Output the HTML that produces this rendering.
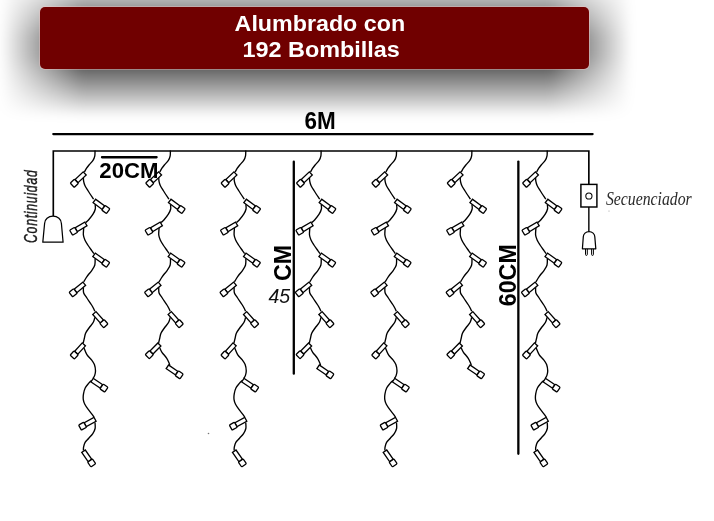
<!DOCTYPE html>
<html><head><meta charset="utf-8"><style>
html,body{margin:0;padding:0;background:#fff;}
body{width:714px;height:521px;position:relative;overflow:hidden;font-family:"Liberation Sans",sans-serif;}
.banner{position:absolute;left:40px;top:7px;width:549px;height:61.5px;background:#700000;border-radius:5px;box-shadow:0 0 0 1px rgba(255,200,200,0.35);
}
.sh{position:absolute;left:0;top:-20px;width:714px;height:170px;filter:blur(5.0px);}
.sh div{position:absolute;left:0;width:714px;height:1px;}
svg{position:absolute;left:0;top:0;filter:blur(0.3px);}
</style></head><body>
<div class="sh"><div style="top:0px;background:linear-gradient(90deg,rgba(0,0,0,0) 0.5px,rgba(0,0,0,0.062) 82.5px,rgba(0,0,0,0.062) 549.5px,rgba(0,0,0,0) 631.5px)"></div><div style="top:1px;background:linear-gradient(90deg,rgba(0,0,0,0) 0.5px,rgba(0,0,0,0.075) 82.5px,rgba(0,0,0,0.075) 549.5px,rgba(0,0,0,0) 631.5px)"></div><div style="top:2px;background:linear-gradient(90deg,rgba(0,0,0,0) 0.5px,rgba(0,0,0,0.087) 82.5px,rgba(0,0,0,0.087) 549.5px,rgba(0,0,0,0) 631.5px)"></div><div style="top:3px;background:linear-gradient(90deg,rgba(0,0,0,0) 0.5px,rgba(0,0,0,0.100) 82.5px,rgba(0,0,0,0.100) 549.5px,rgba(0,0,0,0) 631.5px)"></div><div style="top:4px;background:linear-gradient(90deg,rgba(0,0,0,0) 0.5px,rgba(0,0,0,0.113) 82.5px,rgba(0,0,0,0.113) 549.5px,rgba(0,0,0,0) 631.5px)"></div><div style="top:5px;background:linear-gradient(90deg,rgba(0,0,0,0) 0.5px,rgba(0,0,0,0.125) 82.5px,rgba(0,0,0,0.125) 549.5px,rgba(0,0,0,0) 631.5px)"></div><div style="top:6px;background:linear-gradient(90deg,rgba(0,0,0,0) 0.5px,rgba(0,0,0,0.138) 82.5px,rgba(0,0,0,0.138) 549.5px,rgba(0,0,0,0) 631.5px)"></div><div style="top:7px;background:linear-gradient(90deg,rgba(0,0,0,0) 0.5px,rgba(0,0,0,0.150) 82.5px,rgba(0,0,0,0.150) 549.5px,rgba(0,0,0,0) 631.5px)"></div><div style="top:8px;background:linear-gradient(90deg,rgba(0,0,0,0) 0.5px,rgba(0,0,0,0.163) 82.5px,rgba(0,0,0,0.163) 549.5px,rgba(0,0,0,0) 631.5px)"></div><div style="top:9px;background:linear-gradient(90deg,rgba(0,0,0,0) 0.5px,rgba(0,0,0,0.175) 82.5px,rgba(0,0,0,0.175) 549.5px,rgba(0,0,0,0) 631.5px)"></div><div style="top:10px;background:linear-gradient(90deg,rgba(0,0,0,0) 0.5px,rgba(0,0,0,0.188) 82.5px,rgba(0,0,0,0.188) 549.5px,rgba(0,0,0,0) 631.5px)"></div><div style="top:11px;background:linear-gradient(90deg,rgba(0,0,0,0) 0.5px,rgba(0,0,0,0.200) 82.5px,rgba(0,0,0,0.200) 549.5px,rgba(0,0,0,0) 631.5px)"></div><div style="top:12px;background:linear-gradient(90deg,rgba(0,0,0,0) 0.5px,rgba(0,0,0,0.212) 82.5px,rgba(0,0,0,0.212) 549.5px,rgba(0,0,0,0) 631.5px)"></div><div style="top:13px;background:linear-gradient(90deg,rgba(0,0,0,0) 0.5px,rgba(0,0,0,0.225) 82.5px,rgba(0,0,0,0.225) 549.5px,rgba(0,0,0,0) 631.5px)"></div><div style="top:14px;background:linear-gradient(90deg,rgba(0,0,0,0) 0.5px,rgba(0,0,0,0.237) 82.5px,rgba(0,0,0,0.237) 549.5px,rgba(0,0,0,0) 631.5px)"></div><div style="top:15px;background:linear-gradient(90deg,rgba(0,0,0,0) 0.5px,rgba(0,0,0,0.250) 82.5px,rgba(0,0,0,0.250) 549.5px,rgba(0,0,0,0) 631.5px)"></div><div style="top:16px;background:linear-gradient(90deg,rgba(0,0,0,0) 0.5px,rgba(0,0,0,0.263) 82.5px,rgba(0,0,0,0.263) 549.5px,rgba(0,0,0,0) 631.5px)"></div><div style="top:17px;background:linear-gradient(90deg,rgba(0,0,0,0) 0.5px,rgba(0,0,0,0.275) 82.5px,rgba(0,0,0,0.275) 549.5px,rgba(0,0,0,0) 631.5px)"></div><div style="top:18px;background:linear-gradient(90deg,rgba(0,0,0,0) 0.5px,rgba(0,0,0,0.287) 82.5px,rgba(0,0,0,0.287) 549.5px,rgba(0,0,0,0) 631.5px)"></div><div style="top:19px;background:linear-gradient(90deg,rgba(0,0,0,0) 0.5px,rgba(0,0,0,0.300) 82.5px,rgba(0,0,0,0.300) 549.5px,rgba(0,0,0,0) 631.5px)"></div><div style="top:20px;background:linear-gradient(90deg,rgba(0,0,0,0) 0.5px,rgba(0,0,0,0.312) 82.5px,rgba(0,0,0,0.312) 549.5px,rgba(0,0,0,0) 631.5px)"></div><div style="top:21px;background:linear-gradient(90deg,rgba(0,0,0,0) 0.5px,rgba(0,0,0,0.325) 82.5px,rgba(0,0,0,0.325) 549.5px,rgba(0,0,0,0) 631.5px)"></div><div style="top:22px;background:linear-gradient(90deg,rgba(0,0,0,0) 0.5px,rgba(0,0,0,0.338) 82.5px,rgba(0,0,0,0.338) 549.5px,rgba(0,0,0,0) 631.5px)"></div><div style="top:23px;background:linear-gradient(90deg,rgba(0,0,0,0) 0.5px,rgba(0,0,0,0.350) 82.5px,rgba(0,0,0,0.350) 549.5px,rgba(0,0,0,0) 631.5px)"></div><div style="top:24px;background:linear-gradient(90deg,rgba(0,0,0,0) 0.5px,rgba(0,0,0,0.362) 82.5px,rgba(0,0,0,0.362) 549.5px,rgba(0,0,0,0) 631.5px)"></div><div style="top:25px;background:linear-gradient(90deg,rgba(0,0,0,0) 0.5px,rgba(0,0,0,0.375) 82.5px,rgba(0,0,0,0.375) 549.5px,rgba(0,0,0,0) 631.5px)"></div><div style="top:26px;background:linear-gradient(90deg,rgba(0,0,0,0) 0.5px,rgba(0,0,0,0.388) 82.5px,rgba(0,0,0,0.388) 549.5px,rgba(0,0,0,0) 631.5px)"></div><div style="top:27px;background:linear-gradient(90deg,rgba(0,0,0,0) 0.5px,rgba(0,0,0,0.400) 82.5px,rgba(0,0,0,0.400) 549.5px,rgba(0,0,0,0) 631.5px)"></div><div style="top:28px;background:linear-gradient(90deg,rgba(0,0,0,0) 0.5px,rgba(0,0,0,0.412) 82.5px,rgba(0,0,0,0.412) 549.5px,rgba(0,0,0,0) 631.5px)"></div><div style="top:29px;background:linear-gradient(90deg,rgba(0,0,0,0) 0.5px,rgba(0,0,0,0.425) 82.5px,rgba(0,0,0,0.425) 549.5px,rgba(0,0,0,0) 631.5px)"></div><div style="top:30px;background:linear-gradient(90deg,rgba(0,0,0,0) 0.5px,rgba(0,0,0,0.438) 82.5px,rgba(0,0,0,0.438) 549.5px,rgba(0,0,0,0) 631.5px)"></div><div style="top:31px;background:linear-gradient(90deg,rgba(0,0,0,0) 0.5px,rgba(0,0,0,0.450) 82.5px,rgba(0,0,0,0.450) 549.5px,rgba(0,0,0,0) 631.5px)"></div><div style="top:32px;background:linear-gradient(90deg,rgba(0,0,0,0) 0.5px,rgba(0,0,0,0.463) 82.5px,rgba(0,0,0,0.463) 549.5px,rgba(0,0,0,0) 631.5px)"></div><div style="top:33px;background:linear-gradient(90deg,rgba(0,0,0,0) 0.5px,rgba(0,0,0,0.475) 82.5px,rgba(0,0,0,0.475) 549.5px,rgba(0,0,0,0) 631.5px)"></div><div style="top:34px;background:linear-gradient(90deg,rgba(0,0,0,0) 0.5px,rgba(0,0,0,0.487) 82.5px,rgba(0,0,0,0.487) 549.5px,rgba(0,0,0,0) 631.5px)"></div><div style="top:35px;background:linear-gradient(90deg,rgba(0,0,0,0) 0.5px,rgba(0,0,0,0.500) 82.5px,rgba(0,0,0,0.500) 549.5px,rgba(0,0,0,0) 631.5px)"></div><div style="top:36px;background:linear-gradient(90deg,rgba(0,0,0,0) 0.5px,rgba(0,0,0,0.512) 82.5px,rgba(0,0,0,0.512) 549.5px,rgba(0,0,0,0) 631.5px)"></div><div style="top:37px;background:linear-gradient(90deg,rgba(0,0,0,0) 0.5px,rgba(0,0,0,0.525) 82.5px,rgba(0,0,0,0.525) 549.5px,rgba(0,0,0,0) 631.5px)"></div><div style="top:38px;background:linear-gradient(90deg,rgba(0,0,0,0) 0.5px,rgba(0,0,0,0.537) 82.5px,rgba(0,0,0,0.537) 549.5px,rgba(0,0,0,0) 631.5px)"></div><div style="top:39px;background:linear-gradient(90deg,rgba(0,0,0,0) 0.5px,rgba(0,0,0,0.550) 82.5px,rgba(0,0,0,0.550) 549.5px,rgba(0,0,0,0) 631.5px)"></div><div style="top:40px;background:linear-gradient(90deg,rgba(0,0,0,0) 0.5px,rgba(0,0,0,0.562) 82.5px,rgba(0,0,0,0.562) 549.5px,rgba(0,0,0,0) 631.5px)"></div><div style="top:41px;background:linear-gradient(90deg,rgba(0,0,0,0) 0.5px,rgba(0,0,0,0.575) 82.5px,rgba(0,0,0,0.575) 549.5px,rgba(0,0,0,0) 631.5px)"></div><div style="top:42px;background:linear-gradient(90deg,rgba(0,0,0,0) 0.5px,rgba(0,0,0,0.588) 82.5px,rgba(0,0,0,0.588) 549.5px,rgba(0,0,0,0) 631.5px)"></div><div style="top:43px;background:linear-gradient(90deg,rgba(0,0,0,0) 0.5px,rgba(0,0,0,0.600) 82.5px,rgba(0,0,0,0.600) 549.5px,rgba(0,0,0,0) 631.5px)"></div><div style="top:44px;background:linear-gradient(90deg,rgba(0,0,0,0) 0.5px,rgba(0,0,0,0.613) 82.5px,rgba(0,0,0,0.613) 549.5px,rgba(0,0,0,0) 631.5px)"></div><div style="top:45px;background:linear-gradient(90deg,rgba(0,0,0,0) 0.5px,rgba(0,0,0,0.625) 82.5px,rgba(0,0,0,0.625) 549.5px,rgba(0,0,0,0) 631.5px)"></div><div style="top:46px;background:linear-gradient(90deg,rgba(0,0,0,0) 0.5px,rgba(0,0,0,0.637) 82.5px,rgba(0,0,0,0.637) 549.5px,rgba(0,0,0,0) 631.5px)"></div><div style="top:47px;background:linear-gradient(90deg,rgba(0,0,0,0) 0.5px,rgba(0,0,0,0.650) 82.5px,rgba(0,0,0,0.650) 549.5px,rgba(0,0,0,0) 631.5px)"></div><div style="top:48px;background:linear-gradient(90deg,rgba(0,0,0,0) 0.5px,rgba(0,0,0,0.662) 82.5px,rgba(0,0,0,0.662) 549.5px,rgba(0,0,0,0) 631.5px)"></div><div style="top:49px;background:linear-gradient(90deg,rgba(0,0,0,0) 0.5px,rgba(0,0,0,0.675) 82.5px,rgba(0,0,0,0.675) 549.5px,rgba(0,0,0,0) 631.5px)"></div><div style="top:50px;background:linear-gradient(90deg,rgba(0,0,0,0) 0.5px,rgba(0,0,0,0.688) 82.5px,rgba(0,0,0,0.688) 549.5px,rgba(0,0,0,0) 631.5px)"></div><div style="top:51px;background:linear-gradient(90deg,rgba(0,0,0,0) 0.5px,rgba(0,0,0,0.700) 82.5px,rgba(0,0,0,0.700) 549.5px,rgba(0,0,0,0) 631.5px)"></div><div style="top:52px;background:linear-gradient(90deg,rgba(0,0,0,0) 0.5px,rgba(0,0,0,0.713) 82.5px,rgba(0,0,0,0.713) 549.5px,rgba(0,0,0,0) 631.5px)"></div><div style="top:53px;background:linear-gradient(90deg,rgba(0,0,0,0) 0.5px,rgba(0,0,0,0.725) 82.5px,rgba(0,0,0,0.725) 549.5px,rgba(0,0,0,0) 631.5px)"></div><div style="top:54px;background:linear-gradient(90deg,rgba(0,0,0,0) 0.5px,rgba(0,0,0,0.738) 82.5px,rgba(0,0,0,0.738) 549.5px,rgba(0,0,0,0) 631.5px)"></div><div style="top:55px;background:linear-gradient(90deg,rgba(0,0,0,0) 0.5px,rgba(0,0,0,0.750) 82.5px,rgba(0,0,0,0.750) 549.5px,rgba(0,0,0,0) 631.5px)"></div><div style="top:56px;background:linear-gradient(90deg,rgba(0,0,0,0) 0.5px,rgba(0,0,0,0.762) 82.5px,rgba(0,0,0,0.762) 549.5px,rgba(0,0,0,0) 631.5px)"></div><div style="top:57px;background:linear-gradient(90deg,rgba(0,0,0,0) 0.5px,rgba(0,0,0,0.769) 82.5px,rgba(0,0,0,0.769) 549.5px,rgba(0,0,0,0) 631.5px)"></div><div style="top:58px;background:linear-gradient(90deg,rgba(0,0,0,0) 0.5px,rgba(0,0,0,0.769) 82.5px,rgba(0,0,0,0.769) 549.5px,rgba(0,0,0,0) 631.5px)"></div><div style="top:59px;background:linear-gradient(90deg,rgba(0,0,0,0) 0.5px,rgba(0,0,0,0.769) 82.5px,rgba(0,0,0,0.769) 549.5px,rgba(0,0,0,0) 631.5px)"></div><div style="top:60px;background:linear-gradient(90deg,rgba(0,0,0,0) 0.5px,rgba(0,0,0,0.769) 82.5px,rgba(0,0,0,0.769) 549.5px,rgba(0,0,0,0) 631.5px)"></div><div style="top:61px;background:linear-gradient(90deg,rgba(0,0,0,0) 0.5px,rgba(0,0,0,0.769) 82.5px,rgba(0,0,0,0.769) 549.5px,rgba(0,0,0,0) 631.5px)"></div><div style="top:62px;background:linear-gradient(90deg,rgba(0,0,0,0) 0.5px,rgba(0,0,0,0.769) 82.5px,rgba(0,0,0,0.769) 549.5px,rgba(0,0,0,0) 631.5px)"></div><div style="top:63px;background:linear-gradient(90deg,rgba(0,0,0,0) 0.5px,rgba(0,0,0,0.769) 82.5px,rgba(0,0,0,0.769) 549.5px,rgba(0,0,0,0) 631.5px)"></div><div style="top:64px;background:linear-gradient(90deg,rgba(0,0,0,0) 0.5px,rgba(0,0,0,0.769) 82.5px,rgba(0,0,0,0.769) 549.5px,rgba(0,0,0,0) 631.5px)"></div><div style="top:65px;background:linear-gradient(90deg,rgba(0,0,0,0) 0.5px,rgba(0,0,0,0.769) 82.5px,rgba(0,0,0,0.769) 549.5px,rgba(0,0,0,0) 631.5px)"></div><div style="top:66px;background:linear-gradient(90deg,rgba(0,0,0,0) 0.5px,rgba(0,0,0,0.769) 82.5px,rgba(0,0,0,0.769) 549.5px,rgba(0,0,0,0) 631.5px)"></div><div style="top:67px;background:linear-gradient(90deg,rgba(0,0,0,0) 0.5px,rgba(0,0,0,0.769) 82.5px,rgba(0,0,0,0.769) 549.5px,rgba(0,0,0,0) 631.5px)"></div><div style="top:68px;background:linear-gradient(90deg,rgba(0,0,0,0) 0.5px,rgba(0,0,0,0.769) 82.5px,rgba(0,0,0,0.769) 549.5px,rgba(0,0,0,0) 631.5px)"></div><div style="top:69px;background:linear-gradient(90deg,rgba(0,0,0,0) 0.5px,rgba(0,0,0,0.769) 82.5px,rgba(0,0,0,0.769) 549.5px,rgba(0,0,0,0) 631.5px)"></div><div style="top:70px;background:linear-gradient(90deg,rgba(0,0,0,0) 0.5px,rgba(0,0,0,0.769) 82.5px,rgba(0,0,0,0.769) 549.5px,rgba(0,0,0,0) 631.5px)"></div><div style="top:71px;background:linear-gradient(90deg,rgba(0,0,0,0) 0.5px,rgba(0,0,0,0.769) 82.5px,rgba(0,0,0,0.769) 549.5px,rgba(0,0,0,0) 631.5px)"></div><div style="top:72px;background:linear-gradient(90deg,rgba(0,0,0,0) 0.5px,rgba(0,0,0,0.769) 82.5px,rgba(0,0,0,0.769) 549.5px,rgba(0,0,0,0) 631.5px)"></div><div style="top:73px;background:linear-gradient(90deg,rgba(0,0,0,0) 0.5px,rgba(0,0,0,0.769) 82.5px,rgba(0,0,0,0.769) 549.5px,rgba(0,0,0,0) 631.5px)"></div><div style="top:74px;background:linear-gradient(90deg,rgba(0,0,0,0) 0.5px,rgba(0,0,0,0.769) 82.5px,rgba(0,0,0,0.769) 549.5px,rgba(0,0,0,0) 631.5px)"></div><div style="top:75px;background:linear-gradient(90deg,rgba(0,0,0,0) 0.5px,rgba(0,0,0,0.769) 82.5px,rgba(0,0,0,0.769) 549.5px,rgba(0,0,0,0) 631.5px)"></div><div style="top:76px;background:linear-gradient(90deg,rgba(0,0,0,0) 0.5px,rgba(0,0,0,0.756) 82.5px,rgba(0,0,0,0.756) 549.5px,rgba(0,0,0,0) 631.5px)"></div><div style="top:77px;background:linear-gradient(90deg,rgba(0,0,0,0) 0.5px,rgba(0,0,0,0.744) 82.5px,rgba(0,0,0,0.744) 549.5px,rgba(0,0,0,0) 631.5px)"></div><div style="top:78px;background:linear-gradient(90deg,rgba(0,0,0,0) 0.5px,rgba(0,0,0,0.731) 82.5px,rgba(0,0,0,0.731) 549.5px,rgba(0,0,0,0) 631.5px)"></div><div style="top:79px;background:linear-gradient(90deg,rgba(0,0,0,0) 0.5px,rgba(0,0,0,0.719) 82.5px,rgba(0,0,0,0.719) 549.5px,rgba(0,0,0,0) 631.5px)"></div><div style="top:80px;background:linear-gradient(90deg,rgba(0,0,0,0) 0.5px,rgba(0,0,0,0.706) 82.5px,rgba(0,0,0,0.706) 549.5px,rgba(0,0,0,0) 631.5px)"></div><div style="top:81px;background:linear-gradient(90deg,rgba(0,0,0,0) 0.5px,rgba(0,0,0,0.694) 82.5px,rgba(0,0,0,0.694) 549.5px,rgba(0,0,0,0) 631.5px)"></div><div style="top:82px;background:linear-gradient(90deg,rgba(0,0,0,0) 0.5px,rgba(0,0,0,0.681) 82.5px,rgba(0,0,0,0.681) 549.5px,rgba(0,0,0,0) 631.5px)"></div><div style="top:83px;background:linear-gradient(90deg,rgba(0,0,0,0) 0.5px,rgba(0,0,0,0.669) 82.5px,rgba(0,0,0,0.669) 549.5px,rgba(0,0,0,0) 631.5px)"></div><div style="top:84px;background:linear-gradient(90deg,rgba(0,0,0,0) 0.5px,rgba(0,0,0,0.656) 82.5px,rgba(0,0,0,0.656) 549.5px,rgba(0,0,0,0) 631.5px)"></div><div style="top:85px;background:linear-gradient(90deg,rgba(0,0,0,0) 0.5px,rgba(0,0,0,0.644) 82.5px,rgba(0,0,0,0.644) 549.5px,rgba(0,0,0,0) 631.5px)"></div><div style="top:86px;background:linear-gradient(90deg,rgba(0,0,0,0) 0.5px,rgba(0,0,0,0.631) 82.5px,rgba(0,0,0,0.631) 549.5px,rgba(0,0,0,0) 631.5px)"></div><div style="top:87px;background:linear-gradient(90deg,rgba(0,0,0,0) 0.5px,rgba(0,0,0,0.619) 82.5px,rgba(0,0,0,0.619) 549.5px,rgba(0,0,0,0) 631.5px)"></div><div style="top:88px;background:linear-gradient(90deg,rgba(0,0,0,0) 0.5px,rgba(0,0,0,0.606) 82.5px,rgba(0,0,0,0.606) 549.5px,rgba(0,0,0,0) 631.5px)"></div><div style="top:89px;background:linear-gradient(90deg,rgba(0,0,0,0) 0.5px,rgba(0,0,0,0.594) 82.5px,rgba(0,0,0,0.594) 549.5px,rgba(0,0,0,0) 631.5px)"></div><div style="top:90px;background:linear-gradient(90deg,rgba(0,0,0,0) 0.5px,rgba(0,0,0,0.581) 82.5px,rgba(0,0,0,0.581) 549.5px,rgba(0,0,0,0) 631.5px)"></div><div style="top:91px;background:linear-gradient(90deg,rgba(0,0,0,0) 0.5px,rgba(0,0,0,0.569) 82.5px,rgba(0,0,0,0.569) 549.5px,rgba(0,0,0,0) 631.5px)"></div><div style="top:92px;background:linear-gradient(90deg,rgba(0,0,0,0) 0.5px,rgba(0,0,0,0.556) 82.5px,rgba(0,0,0,0.556) 549.5px,rgba(0,0,0,0) 631.5px)"></div><div style="top:93px;background:linear-gradient(90deg,rgba(0,0,0,0) 0.5px,rgba(0,0,0,0.544) 82.5px,rgba(0,0,0,0.544) 549.5px,rgba(0,0,0,0) 631.5px)"></div><div style="top:94px;background:linear-gradient(90deg,rgba(0,0,0,0) 0.5px,rgba(0,0,0,0.531) 82.5px,rgba(0,0,0,0.531) 549.5px,rgba(0,0,0,0) 631.5px)"></div><div style="top:95px;background:linear-gradient(90deg,rgba(0,0,0,0) 0.5px,rgba(0,0,0,0.519) 82.5px,rgba(0,0,0,0.519) 549.5px,rgba(0,0,0,0) 631.5px)"></div><div style="top:96px;background:linear-gradient(90deg,rgba(0,0,0,0) 0.5px,rgba(0,0,0,0.506) 82.5px,rgba(0,0,0,0.506) 549.5px,rgba(0,0,0,0) 631.5px)"></div><div style="top:97px;background:linear-gradient(90deg,rgba(0,0,0,0) 0.5px,rgba(0,0,0,0.494) 82.5px,rgba(0,0,0,0.494) 549.5px,rgba(0,0,0,0) 631.5px)"></div><div style="top:98px;background:linear-gradient(90deg,rgba(0,0,0,0) 0.5px,rgba(0,0,0,0.481) 82.5px,rgba(0,0,0,0.481) 549.5px,rgba(0,0,0,0) 631.5px)"></div><div style="top:99px;background:linear-gradient(90deg,rgba(0,0,0,0) 0.5px,rgba(0,0,0,0.469) 82.5px,rgba(0,0,0,0.469) 549.5px,rgba(0,0,0,0) 631.5px)"></div><div style="top:100px;background:linear-gradient(90deg,rgba(0,0,0,0) 0.5px,rgba(0,0,0,0.456) 82.5px,rgba(0,0,0,0.456) 549.5px,rgba(0,0,0,0) 631.5px)"></div><div style="top:101px;background:linear-gradient(90deg,rgba(0,0,0,0) 0.5px,rgba(0,0,0,0.444) 82.5px,rgba(0,0,0,0.444) 549.5px,rgba(0,0,0,0) 631.5px)"></div><div style="top:102px;background:linear-gradient(90deg,rgba(0,0,0,0) 0.5px,rgba(0,0,0,0.431) 82.5px,rgba(0,0,0,0.431) 549.5px,rgba(0,0,0,0) 631.5px)"></div><div style="top:103px;background:linear-gradient(90deg,rgba(0,0,0,0) 0.5px,rgba(0,0,0,0.419) 82.5px,rgba(0,0,0,0.419) 549.5px,rgba(0,0,0,0) 631.5px)"></div><div style="top:104px;background:linear-gradient(90deg,rgba(0,0,0,0) 0.5px,rgba(0,0,0,0.406) 82.5px,rgba(0,0,0,0.406) 549.5px,rgba(0,0,0,0) 631.5px)"></div><div style="top:105px;background:linear-gradient(90deg,rgba(0,0,0,0) 0.5px,rgba(0,0,0,0.394) 82.5px,rgba(0,0,0,0.394) 549.5px,rgba(0,0,0,0) 631.5px)"></div><div style="top:106px;background:linear-gradient(90deg,rgba(0,0,0,0) 0.5px,rgba(0,0,0,0.381) 82.5px,rgba(0,0,0,0.381) 549.5px,rgba(0,0,0,0) 631.5px)"></div><div style="top:107px;background:linear-gradient(90deg,rgba(0,0,0,0) 0.5px,rgba(0,0,0,0.369) 82.5px,rgba(0,0,0,0.369) 549.5px,rgba(0,0,0,0) 631.5px)"></div><div style="top:108px;background:linear-gradient(90deg,rgba(0,0,0,0) 0.5px,rgba(0,0,0,0.356) 82.5px,rgba(0,0,0,0.356) 549.5px,rgba(0,0,0,0) 631.5px)"></div><div style="top:109px;background:linear-gradient(90deg,rgba(0,0,0,0) 0.5px,rgba(0,0,0,0.344) 82.5px,rgba(0,0,0,0.344) 549.5px,rgba(0,0,0,0) 631.5px)"></div><div style="top:110px;background:linear-gradient(90deg,rgba(0,0,0,0) 0.5px,rgba(0,0,0,0.331) 82.5px,rgba(0,0,0,0.331) 549.5px,rgba(0,0,0,0) 631.5px)"></div><div style="top:111px;background:linear-gradient(90deg,rgba(0,0,0,0) 0.5px,rgba(0,0,0,0.319) 82.5px,rgba(0,0,0,0.319) 549.5px,rgba(0,0,0,0) 631.5px)"></div><div style="top:112px;background:linear-gradient(90deg,rgba(0,0,0,0) 0.5px,rgba(0,0,0,0.306) 82.5px,rgba(0,0,0,0.306) 549.5px,rgba(0,0,0,0) 631.5px)"></div><div style="top:113px;background:linear-gradient(90deg,rgba(0,0,0,0) 0.5px,rgba(0,0,0,0.294) 82.5px,rgba(0,0,0,0.294) 549.5px,rgba(0,0,0,0) 631.5px)"></div><div style="top:114px;background:linear-gradient(90deg,rgba(0,0,0,0) 0.5px,rgba(0,0,0,0.281) 82.5px,rgba(0,0,0,0.281) 549.5px,rgba(0,0,0,0) 631.5px)"></div><div style="top:115px;background:linear-gradient(90deg,rgba(0,0,0,0) 0.5px,rgba(0,0,0,0.269) 82.5px,rgba(0,0,0,0.269) 549.5px,rgba(0,0,0,0) 631.5px)"></div><div style="top:116px;background:linear-gradient(90deg,rgba(0,0,0,0) 0.5px,rgba(0,0,0,0.256) 82.5px,rgba(0,0,0,0.256) 549.5px,rgba(0,0,0,0) 631.5px)"></div><div style="top:117px;background:linear-gradient(90deg,rgba(0,0,0,0) 0.5px,rgba(0,0,0,0.244) 82.5px,rgba(0,0,0,0.244) 549.5px,rgba(0,0,0,0) 631.5px)"></div><div style="top:118px;background:linear-gradient(90deg,rgba(0,0,0,0) 0.5px,rgba(0,0,0,0.231) 82.5px,rgba(0,0,0,0.231) 549.5px,rgba(0,0,0,0) 631.5px)"></div><div style="top:119px;background:linear-gradient(90deg,rgba(0,0,0,0) 0.5px,rgba(0,0,0,0.219) 82.5px,rgba(0,0,0,0.219) 549.5px,rgba(0,0,0,0) 631.5px)"></div><div style="top:120px;background:linear-gradient(90deg,rgba(0,0,0,0) 0.5px,rgba(0,0,0,0.206) 82.5px,rgba(0,0,0,0.206) 549.5px,rgba(0,0,0,0) 631.5px)"></div><div style="top:121px;background:linear-gradient(90deg,rgba(0,0,0,0) 0.5px,rgba(0,0,0,0.194) 82.5px,rgba(0,0,0,0.194) 549.5px,rgba(0,0,0,0) 631.5px)"></div><div style="top:122px;background:linear-gradient(90deg,rgba(0,0,0,0) 0.5px,rgba(0,0,0,0.181) 82.5px,rgba(0,0,0,0.181) 549.5px,rgba(0,0,0,0) 631.5px)"></div><div style="top:123px;background:linear-gradient(90deg,rgba(0,0,0,0) 0.5px,rgba(0,0,0,0.169) 82.5px,rgba(0,0,0,0.169) 549.5px,rgba(0,0,0,0) 631.5px)"></div><div style="top:124px;background:linear-gradient(90deg,rgba(0,0,0,0) 0.5px,rgba(0,0,0,0.156) 82.5px,rgba(0,0,0,0.156) 549.5px,rgba(0,0,0,0) 631.5px)"></div><div style="top:125px;background:linear-gradient(90deg,rgba(0,0,0,0) 0.5px,rgba(0,0,0,0.144) 82.5px,rgba(0,0,0,0.144) 549.5px,rgba(0,0,0,0) 631.5px)"></div><div style="top:126px;background:linear-gradient(90deg,rgba(0,0,0,0) 0.5px,rgba(0,0,0,0.131) 82.5px,rgba(0,0,0,0.131) 549.5px,rgba(0,0,0,0) 631.5px)"></div><div style="top:127px;background:linear-gradient(90deg,rgba(0,0,0,0) 0.5px,rgba(0,0,0,0.119) 82.5px,rgba(0,0,0,0.119) 549.5px,rgba(0,0,0,0) 631.5px)"></div><div style="top:128px;background:linear-gradient(90deg,rgba(0,0,0,0) 0.5px,rgba(0,0,0,0.106) 82.5px,rgba(0,0,0,0.106) 549.5px,rgba(0,0,0,0) 631.5px)"></div><div style="top:129px;background:linear-gradient(90deg,rgba(0,0,0,0) 0.5px,rgba(0,0,0,0.094) 82.5px,rgba(0,0,0,0.094) 549.5px,rgba(0,0,0,0) 631.5px)"></div><div style="top:130px;background:linear-gradient(90deg,rgba(0,0,0,0) 0.5px,rgba(0,0,0,0.081) 82.5px,rgba(0,0,0,0.081) 549.5px,rgba(0,0,0,0) 631.5px)"></div><div style="top:131px;background:linear-gradient(90deg,rgba(0,0,0,0) 0.5px,rgba(0,0,0,0.069) 82.5px,rgba(0,0,0,0.069) 549.5px,rgba(0,0,0,0) 631.5px)"></div><div style="top:132px;background:linear-gradient(90deg,rgba(0,0,0,0) 0.5px,rgba(0,0,0,0.056) 82.5px,rgba(0,0,0,0.056) 549.5px,rgba(0,0,0,0) 631.5px)"></div><div style="top:133px;background:linear-gradient(90deg,rgba(0,0,0,0) 0.5px,rgba(0,0,0,0.044) 82.5px,rgba(0,0,0,0.044) 549.5px,rgba(0,0,0,0) 631.5px)"></div><div style="top:134px;background:linear-gradient(90deg,rgba(0,0,0,0) 0.5px,rgba(0,0,0,0.031) 82.5px,rgba(0,0,0,0.031) 549.5px,rgba(0,0,0,0) 631.5px)"></div><div style="top:135px;background:linear-gradient(90deg,rgba(0,0,0,0) 0.5px,rgba(0,0,0,0.019) 82.5px,rgba(0,0,0,0.019) 549.5px,rgba(0,0,0,0) 631.5px)"></div><div style="top:136px;background:linear-gradient(90deg,rgba(0,0,0,0) 0.5px,rgba(0,0,0,0.006) 82.5px,rgba(0,0,0,0.006) 549.5px,rgba(0,0,0,0) 631.5px)"></div></div><div class="banner"></div>
<svg width="714" height="521" viewBox="0 0 714 521">
<text x="234.6" y="30.7" font-family="Liberation Sans" font-weight="bold" font-size="22.6" fill="#fff" textLength="170.5" lengthAdjust="spacingAndGlyphs">Alumbrado con</text>
<text x="242.4" y="57.1" font-family="Liberation Sans" font-weight="bold" font-size="22.6" fill="#fff" textLength="157.5" lengthAdjust="spacingAndGlyphs">192 Bombillas</text>
<line x1="53.3" y1="134.1" x2="592.6" y2="134.1" stroke="#000" stroke-width="2.3" stroke-linecap="round"/>
<path d="M53.3 216 V151 H588.85 V184" fill="none" stroke="#000" stroke-width="1.65"/>
<g fill="none" stroke="#000" stroke-width="1.35"><path d="M95.00 150.50C94.97 151.38 95.13 154.15 94.80 155.80C94.47 157.45 93.97 158.87 93.00 160.40C92.03 161.93 90.10 163.67 89.00 165.00C87.90 166.33 87.17 167.23 86.40 168.40C85.63 169.57 84.73 171.40 84.40 172.00M83.40 177.60C83.43 178.17 83.35 179.68 83.60 181.00C83.85 182.32 84.13 183.83 84.90 185.50C85.67 187.17 86.75 188.72 88.20 191.00C89.65 193.28 92.70 197.83 93.60 199.20M95.10 204.40C95.13 205.17 95.65 207.37 95.30 209.00C94.95 210.63 94.13 212.37 93.00 214.20C91.87 216.03 89.72 218.62 88.50 220.00C87.28 221.38 86.17 222.08 85.70 222.50M83.70 228.00C83.65 229.17 83.20 233.00 83.40 235.00C83.60 237.00 84.17 238.33 84.90 240.00C85.63 241.67 86.63 243.20 87.80 245.00C88.97 246.80 90.88 249.37 91.90 250.80C92.92 252.23 93.57 253.13 93.90 253.60M95.10 258.50C95.05 259.58 95.33 263.03 94.80 265.00C94.27 266.97 93.02 268.63 91.90 270.30C90.78 271.97 89.13 273.63 88.10 275.00C87.07 276.37 86.43 277.35 85.70 278.50C84.97 279.65 84.03 281.33 83.70 281.90M83.40 287.40C83.45 288.33 83.12 291.23 83.70 293.00C84.28 294.77 85.58 296.00 86.90 298.00C88.22 300.00 90.48 303.25 91.60 305.00C92.72 306.75 93.07 307.45 93.60 308.50C94.13 309.55 94.60 310.83 94.80 311.30M94.80 317.40C94.55 318.22 94.27 320.53 93.30 322.30C92.33 324.07 90.28 326.18 89.00 328.00C87.72 329.82 86.38 331.45 85.60 333.20C84.82 334.95 84.70 336.87 84.30 338.50C83.90 340.13 83.38 342.25 83.20 343.00M84.00 348.00C84.48 349.10 85.65 352.63 86.90 354.60C88.15 356.57 90.25 358.13 91.50 359.80C92.75 361.47 93.73 362.77 94.40 364.60C95.07 366.43 95.45 369.00 95.50 370.80C95.55 372.60 95.12 374.12 94.70 375.40C94.28 376.68 93.28 377.98 93.00 378.50M91.50 380.50C91.02 380.98 89.65 382.15 88.60 383.40C87.55 384.65 86.05 386.27 85.20 388.00C84.35 389.73 83.82 391.87 83.50 393.80C83.18 395.73 83.08 397.87 83.30 399.60C83.52 401.33 83.98 402.57 84.80 404.20C85.62 405.83 86.95 407.67 88.20 409.40C89.45 411.13 91.33 413.30 92.30 414.60C93.27 415.90 93.72 416.77 94.00 417.20M95.00 422.40C95.02 423.42 95.47 426.63 95.10 428.50C94.73 430.37 93.85 431.98 92.80 433.60C91.75 435.22 90.08 436.75 88.80 438.20C87.52 439.65 85.97 440.85 85.10 442.30C84.23 443.75 83.88 445.53 83.60 446.90C83.32 448.27 83.43 449.90 83.40 450.50"/><path d="M170.37 150.50C170.34 151.38 170.50 154.15 170.17 155.80C169.84 157.45 169.34 158.87 168.37 160.40C167.40 161.93 165.47 163.67 164.37 165.00C163.27 166.33 162.54 167.23 161.77 168.40C161.00 169.57 160.10 171.40 159.77 172.00M158.77 177.60C158.80 178.17 158.72 179.68 158.97 181.00C159.22 182.32 159.50 183.83 160.27 185.50C161.04 187.17 162.12 188.72 163.57 191.00C165.02 193.28 168.07 197.83 168.97 199.20M170.47 204.40C170.50 205.17 171.02 207.37 170.67 209.00C170.32 210.63 169.50 212.37 168.37 214.20C167.24 216.03 165.09 218.62 163.87 220.00C162.65 221.38 161.54 222.08 161.07 222.50M159.07 228.00C159.02 229.17 158.57 233.00 158.77 235.00C158.97 237.00 159.54 238.33 160.27 240.00C161.00 241.67 162.00 243.20 163.17 245.00C164.34 246.80 166.25 249.37 167.27 250.80C168.29 252.23 168.94 253.13 169.27 253.60M170.47 258.50C170.42 259.58 170.70 263.03 170.17 265.00C169.64 266.97 168.39 268.63 167.27 270.30C166.15 271.97 164.50 273.63 163.47 275.00C162.44 276.37 161.80 277.35 161.07 278.50C160.34 279.65 159.40 281.33 159.07 281.90M158.77 287.40C158.82 288.33 158.49 291.23 159.07 293.00C159.65 294.77 160.95 296.00 162.27 298.00C163.59 300.00 165.85 303.25 166.97 305.00C168.09 306.75 168.44 307.45 168.97 308.50C169.50 309.55 169.97 310.83 170.17 311.30M170.17 317.40C169.92 318.22 169.64 320.53 168.67 322.30C167.70 324.07 165.65 326.18 164.37 328.00C163.09 329.82 161.75 331.45 160.97 333.20C160.19 334.95 160.07 336.87 159.67 338.50C159.27 340.13 158.75 342.25 158.57 343.00M159.77 348.00C160.14 348.72 160.80 350.58 161.97 352.30C163.14 354.02 165.55 356.43 166.77 358.30C167.99 360.17 168.77 362.33 169.27 363.50C169.77 364.67 169.69 365.00 169.77 365.30"/><path d="M245.74 150.50C245.71 151.38 245.87 154.15 245.54 155.80C245.21 157.45 244.71 158.87 243.74 160.40C242.77 161.93 240.84 163.67 239.74 165.00C238.64 166.33 237.91 167.23 237.14 168.40C236.37 169.57 235.47 171.40 235.14 172.00M234.14 177.60C234.17 178.17 234.09 179.68 234.34 181.00C234.59 182.32 234.87 183.83 235.64 185.50C236.41 187.17 237.49 188.72 238.94 191.00C240.39 193.28 243.44 197.83 244.34 199.20M245.84 204.40C245.87 205.17 246.39 207.37 246.04 209.00C245.69 210.63 244.87 212.37 243.74 214.20C242.61 216.03 240.46 218.62 239.24 220.00C238.02 221.38 236.91 222.08 236.44 222.50M234.44 228.00C234.39 229.17 233.94 233.00 234.14 235.00C234.34 237.00 234.91 238.33 235.64 240.00C236.37 241.67 237.37 243.20 238.54 245.00C239.71 246.80 241.62 249.37 242.64 250.80C243.66 252.23 244.31 253.13 244.64 253.60M245.84 258.50C245.79 259.58 246.07 263.03 245.54 265.00C245.01 266.97 243.76 268.63 242.64 270.30C241.52 271.97 239.87 273.63 238.84 275.00C237.81 276.37 237.17 277.35 236.44 278.50C235.71 279.65 234.77 281.33 234.44 281.90M234.14 287.40C234.19 288.33 233.86 291.23 234.44 293.00C235.02 294.77 236.32 296.00 237.64 298.00C238.96 300.00 241.22 303.25 242.34 305.00C243.46 306.75 243.81 307.45 244.34 308.50C244.87 309.55 245.34 310.83 245.54 311.30M245.54 317.40C245.29 318.22 245.01 320.53 244.04 322.30C243.07 324.07 241.02 326.18 239.74 328.00C238.46 329.82 237.12 331.45 236.34 333.20C235.56 334.95 235.44 336.87 235.04 338.50C234.64 340.13 234.12 342.25 233.94 343.00M234.74 348.00C235.22 349.10 236.39 352.63 237.64 354.60C238.89 356.57 240.99 358.13 242.24 359.80C243.49 361.47 244.47 362.77 245.14 364.60C245.81 366.43 246.19 369.00 246.24 370.80C246.29 372.60 245.86 374.12 245.44 375.40C245.02 376.68 244.02 377.98 243.74 378.50M242.24 380.50C241.76 380.98 240.39 382.15 239.34 383.40C238.29 384.65 236.79 386.27 235.94 388.00C235.09 389.73 234.56 391.87 234.24 393.80C233.92 395.73 233.82 397.87 234.04 399.60C234.26 401.33 234.72 402.57 235.54 404.20C236.36 405.83 237.69 407.67 238.94 409.40C240.19 411.13 242.07 413.30 243.04 414.60C244.01 415.90 244.46 416.77 244.74 417.20M245.74 422.40C245.76 423.42 246.21 426.63 245.84 428.50C245.47 430.37 244.59 431.98 243.54 433.60C242.49 435.22 240.82 436.75 239.54 438.20C238.26 439.65 236.71 440.85 235.84 442.30C234.97 443.75 234.62 445.53 234.34 446.90C234.06 448.27 234.17 449.90 234.14 450.50"/><path d="M321.11 150.50C321.08 151.38 321.24 154.15 320.91 155.80C320.58 157.45 320.08 158.87 319.11 160.40C318.14 161.93 316.21 163.67 315.11 165.00C314.01 166.33 313.28 167.23 312.51 168.40C311.74 169.57 310.84 171.40 310.51 172.00M309.51 177.60C309.54 178.17 309.46 179.68 309.71 181.00C309.96 182.32 310.24 183.83 311.01 185.50C311.78 187.17 312.86 188.72 314.31 191.00C315.76 193.28 318.81 197.83 319.71 199.20M321.21 204.40C321.24 205.17 321.76 207.37 321.41 209.00C321.06 210.63 320.24 212.37 319.11 214.20C317.98 216.03 315.83 218.62 314.61 220.00C313.39 221.38 312.28 222.08 311.81 222.50M309.81 228.00C309.76 229.17 309.31 233.00 309.51 235.00C309.71 237.00 310.28 238.33 311.01 240.00C311.74 241.67 312.74 243.20 313.91 245.00C315.08 246.80 316.99 249.37 318.01 250.80C319.03 252.23 319.68 253.13 320.01 253.60M321.21 258.50C321.16 259.58 321.44 263.03 320.91 265.00C320.38 266.97 319.13 268.63 318.01 270.30C316.89 271.97 315.24 273.63 314.21 275.00C313.18 276.37 312.54 277.35 311.81 278.50C311.08 279.65 310.14 281.33 309.81 281.90M309.51 287.40C309.56 288.33 309.23 291.23 309.81 293.00C310.39 294.77 311.69 296.00 313.01 298.00C314.33 300.00 316.59 303.25 317.71 305.00C318.83 306.75 319.18 307.45 319.71 308.50C320.24 309.55 320.71 310.83 320.91 311.30M320.91 317.40C320.66 318.22 320.38 320.53 319.41 322.30C318.44 324.07 316.39 326.18 315.11 328.00C313.83 329.82 312.49 331.45 311.71 333.20C310.93 334.95 310.81 336.87 310.41 338.50C310.01 340.13 309.49 342.25 309.31 343.00M310.51 348.00C310.88 348.72 311.54 350.58 312.71 352.30C313.88 354.02 316.29 356.43 317.51 358.30C318.73 360.17 319.51 362.33 320.01 363.50C320.51 364.67 320.43 365.00 320.51 365.30"/><path d="M396.48 150.50C396.45 151.38 396.61 154.15 396.28 155.80C395.95 157.45 395.45 158.87 394.48 160.40C393.51 161.93 391.58 163.67 390.48 165.00C389.38 166.33 388.65 167.23 387.88 168.40C387.11 169.57 386.21 171.40 385.88 172.00M384.88 177.60C384.91 178.17 384.83 179.68 385.08 181.00C385.33 182.32 385.61 183.83 386.38 185.50C387.15 187.17 388.23 188.72 389.68 191.00C391.13 193.28 394.18 197.83 395.08 199.20M396.58 204.40C396.61 205.17 397.13 207.37 396.78 209.00C396.43 210.63 395.61 212.37 394.48 214.20C393.35 216.03 391.20 218.62 389.98 220.00C388.76 221.38 387.65 222.08 387.18 222.50M385.18 228.00C385.13 229.17 384.68 233.00 384.88 235.00C385.08 237.00 385.65 238.33 386.38 240.00C387.11 241.67 388.11 243.20 389.28 245.00C390.45 246.80 392.36 249.37 393.38 250.80C394.40 252.23 395.05 253.13 395.38 253.60M396.58 258.50C396.53 259.58 396.81 263.03 396.28 265.00C395.75 266.97 394.50 268.63 393.38 270.30C392.26 271.97 390.61 273.63 389.58 275.00C388.55 276.37 387.91 277.35 387.18 278.50C386.45 279.65 385.51 281.33 385.18 281.90M384.88 287.40C384.93 288.33 384.60 291.23 385.18 293.00C385.76 294.77 387.06 296.00 388.38 298.00C389.70 300.00 391.96 303.25 393.08 305.00C394.20 306.75 394.55 307.45 395.08 308.50C395.61 309.55 396.08 310.83 396.28 311.30M396.28 317.40C396.03 318.22 395.75 320.53 394.78 322.30C393.81 324.07 391.76 326.18 390.48 328.00C389.20 329.82 387.86 331.45 387.08 333.20C386.30 334.95 386.18 336.87 385.78 338.50C385.38 340.13 384.86 342.25 384.68 343.00M385.48 348.00C385.96 349.10 387.13 352.63 388.38 354.60C389.63 356.57 391.73 358.13 392.98 359.80C394.23 361.47 395.21 362.77 395.88 364.60C396.55 366.43 396.93 369.00 396.98 370.80C397.03 372.60 396.60 374.12 396.18 375.40C395.76 376.68 394.76 377.98 394.48 378.50M392.98 380.50C392.50 380.98 391.13 382.15 390.08 383.40C389.03 384.65 387.53 386.27 386.68 388.00C385.83 389.73 385.30 391.87 384.98 393.80C384.66 395.73 384.56 397.87 384.78 399.60C385.00 401.33 385.46 402.57 386.28 404.20C387.10 405.83 388.43 407.67 389.68 409.40C390.93 411.13 392.81 413.30 393.78 414.60C394.75 415.90 395.20 416.77 395.48 417.20M396.48 422.40C396.50 423.42 396.95 426.63 396.58 428.50C396.21 430.37 395.33 431.98 394.28 433.60C393.23 435.22 391.56 436.75 390.28 438.20C389.00 439.65 387.45 440.85 386.58 442.30C385.71 443.75 385.36 445.53 385.08 446.90C384.80 448.27 384.91 449.90 384.88 450.50"/><path d="M471.85 150.50C471.82 151.38 471.98 154.15 471.65 155.80C471.32 157.45 470.82 158.87 469.85 160.40C468.88 161.93 466.95 163.67 465.85 165.00C464.75 166.33 464.02 167.23 463.25 168.40C462.48 169.57 461.58 171.40 461.25 172.00M460.25 177.60C460.28 178.17 460.20 179.68 460.45 181.00C460.70 182.32 460.98 183.83 461.75 185.50C462.52 187.17 463.60 188.72 465.05 191.00C466.50 193.28 469.55 197.83 470.45 199.20M471.95 204.40C471.98 205.17 472.50 207.37 472.15 209.00C471.80 210.63 470.98 212.37 469.85 214.20C468.72 216.03 466.57 218.62 465.35 220.00C464.13 221.38 463.02 222.08 462.55 222.50M460.55 228.00C460.50 229.17 460.05 233.00 460.25 235.00C460.45 237.00 461.02 238.33 461.75 240.00C462.48 241.67 463.48 243.20 464.65 245.00C465.82 246.80 467.73 249.37 468.75 250.80C469.77 252.23 470.42 253.13 470.75 253.60M471.95 258.50C471.90 259.58 472.18 263.03 471.65 265.00C471.12 266.97 469.87 268.63 468.75 270.30C467.63 271.97 465.98 273.63 464.95 275.00C463.92 276.37 463.28 277.35 462.55 278.50C461.82 279.65 460.88 281.33 460.55 281.90M460.25 287.40C460.30 288.33 459.97 291.23 460.55 293.00C461.13 294.77 462.43 296.00 463.75 298.00C465.07 300.00 467.33 303.25 468.45 305.00C469.57 306.75 469.92 307.45 470.45 308.50C470.98 309.55 471.45 310.83 471.65 311.30M471.65 317.40C471.40 318.22 471.12 320.53 470.15 322.30C469.18 324.07 467.13 326.18 465.85 328.00C464.57 329.82 463.23 331.45 462.45 333.20C461.67 334.95 461.55 336.87 461.15 338.50C460.75 340.13 460.23 342.25 460.05 343.00M461.25 348.00C461.62 348.72 462.28 350.58 463.45 352.30C464.62 354.02 467.03 356.43 468.25 358.30C469.47 360.17 470.25 362.33 470.75 363.50C471.25 364.67 471.17 365.00 471.25 365.30"/><path d="M547.22 150.50C547.19 151.38 547.35 154.15 547.02 155.80C546.69 157.45 546.19 158.87 545.22 160.40C544.25 161.93 542.32 163.67 541.22 165.00C540.12 166.33 539.39 167.23 538.62 168.40C537.85 169.57 536.95 171.40 536.62 172.00M535.62 177.60C535.65 178.17 535.57 179.68 535.82 181.00C536.07 182.32 536.35 183.83 537.12 185.50C537.89 187.17 538.97 188.72 540.42 191.00C541.87 193.28 544.92 197.83 545.82 199.20M547.32 204.40C547.35 205.17 547.87 207.37 547.52 209.00C547.17 210.63 546.35 212.37 545.22 214.20C544.09 216.03 541.94 218.62 540.72 220.00C539.50 221.38 538.39 222.08 537.92 222.50M535.92 228.00C535.87 229.17 535.42 233.00 535.62 235.00C535.82 237.00 536.39 238.33 537.12 240.00C537.85 241.67 538.85 243.20 540.02 245.00C541.19 246.80 543.10 249.37 544.12 250.80C545.14 252.23 545.79 253.13 546.12 253.60M547.32 258.50C547.27 259.58 547.55 263.03 547.02 265.00C546.49 266.97 545.24 268.63 544.12 270.30C543.00 271.97 541.35 273.63 540.32 275.00C539.29 276.37 538.65 277.35 537.92 278.50C537.19 279.65 536.25 281.33 535.92 281.90M535.62 287.40C535.67 288.33 535.34 291.23 535.92 293.00C536.50 294.77 537.80 296.00 539.12 298.00C540.44 300.00 542.70 303.25 543.82 305.00C544.94 306.75 545.29 307.45 545.82 308.50C546.35 309.55 546.82 310.83 547.02 311.30M547.02 317.40C546.77 318.22 546.49 320.53 545.52 322.30C544.55 324.07 542.50 326.18 541.22 328.00C539.94 329.82 538.60 331.45 537.82 333.20C537.04 334.95 536.92 336.87 536.52 338.50C536.12 340.13 535.60 342.25 535.42 343.00M536.22 348.00C536.70 349.10 537.87 352.63 539.12 354.60C540.37 356.57 542.47 358.13 543.72 359.80C544.97 361.47 545.95 362.77 546.62 364.60C547.29 366.43 547.67 369.00 547.72 370.80C547.77 372.60 547.34 374.12 546.92 375.40C546.50 376.68 545.50 377.98 545.22 378.50M543.72 380.50C543.24 380.98 541.87 382.15 540.82 383.40C539.77 384.65 538.27 386.27 537.42 388.00C536.57 389.73 536.04 391.87 535.72 393.80C535.40 395.73 535.30 397.87 535.52 399.60C535.74 401.33 536.20 402.57 537.02 404.20C537.84 405.83 539.17 407.67 540.42 409.40C541.67 411.13 543.55 413.30 544.52 414.60C545.49 415.90 545.94 416.77 546.22 417.20M547.22 422.40C547.24 423.42 547.69 426.63 547.32 428.50C546.95 430.37 546.07 431.98 545.02 433.60C543.97 435.22 542.30 436.75 541.02 438.20C539.74 439.65 538.19 440.85 537.32 442.30C536.45 443.75 536.10 445.53 535.82 446.90C535.54 448.27 535.65 449.90 535.62 450.50"/></g>
<g fill="#fff" stroke="#000" stroke-width="1.3"><g transform="translate(84.70 173.40) rotate(136.4)"><rect x="0" y="-2.15" width="11.2" height="4.3"/><rect x="11.40" y="-2.90" width="5.8" height="5.8" rx="0.9"/></g><g transform="translate(94.35 200.95) rotate(36.6)"><rect x="0" y="-2.15" width="11.2" height="4.3"/><rect x="11.40" y="-2.90" width="5.8" height="5.8" rx="0.9"/></g><g transform="translate(85.90 223.95) rotate(149.3)"><rect x="0" y="-2.15" width="11.2" height="4.3"/><rect x="11.40" y="-2.90" width="5.8" height="5.8" rx="0.9"/></g><g transform="translate(94.05 254.90) rotate(35.5)"><rect x="0" y="-2.15" width="11.2" height="4.3"/><rect x="11.40" y="-2.90" width="5.8" height="5.8" rx="0.9"/></g><g transform="translate(84.25 283.80) rotate(140.8)"><rect x="0" y="-2.15" width="11.2" height="4.3"/><rect x="11.40" y="-2.90" width="5.8" height="5.8" rx="0.9"/></g><g transform="translate(94.35 313.05) rotate(48.1)"><rect x="0" y="-2.15" width="11.2" height="4.3"/><rect x="11.40" y="-2.90" width="5.8" height="5.8" rx="0.9"/></g><g transform="translate(83.85 344.40) rotate(132.4)"><rect x="0" y="-2.15" width="11.2" height="4.3"/><rect x="11.40" y="-2.90" width="5.8" height="5.8" rx="0.9"/></g><g transform="translate(92.10 380.10) rotate(34.0)"><rect x="0" y="-2.15" width="11.2" height="4.3"/><rect x="11.40" y="-2.90" width="5.8" height="5.8" rx="0.9"/></g><g transform="translate(95.05 419.25) rotate(151.0)"><rect x="0" y="-2.15" width="11.2" height="4.3"/><rect x="11.40" y="-2.90" width="5.8" height="5.8" rx="0.9"/></g><g transform="translate(83.50 451.20) rotate(55.3)"><rect x="0" y="-2.15" width="11.2" height="4.3"/><rect x="11.40" y="-2.90" width="5.8" height="5.8" rx="0.9"/></g><g transform="translate(160.07 173.40) rotate(136.4)"><rect x="0" y="-2.15" width="11.2" height="4.3"/><rect x="11.40" y="-2.90" width="5.8" height="5.8" rx="0.9"/></g><g transform="translate(169.72 200.95) rotate(36.6)"><rect x="0" y="-2.15" width="11.2" height="4.3"/><rect x="11.40" y="-2.90" width="5.8" height="5.8" rx="0.9"/></g><g transform="translate(161.27 223.95) rotate(149.3)"><rect x="0" y="-2.15" width="11.2" height="4.3"/><rect x="11.40" y="-2.90" width="5.8" height="5.8" rx="0.9"/></g><g transform="translate(169.42 254.90) rotate(35.5)"><rect x="0" y="-2.15" width="11.2" height="4.3"/><rect x="11.40" y="-2.90" width="5.8" height="5.8" rx="0.9"/></g><g transform="translate(159.62 283.80) rotate(140.8)"><rect x="0" y="-2.15" width="11.2" height="4.3"/><rect x="11.40" y="-2.90" width="5.8" height="5.8" rx="0.9"/></g><g transform="translate(169.72 313.05) rotate(48.1)"><rect x="0" y="-2.15" width="11.2" height="4.3"/><rect x="11.40" y="-2.90" width="5.8" height="5.8" rx="0.9"/></g><g transform="translate(159.37 344.50) rotate(134.7)"><rect x="0" y="-2.15" width="11.2" height="4.3"/><rect x="11.40" y="-2.90" width="5.8" height="5.8" rx="0.9"/></g><g transform="translate(167.37 366.80) rotate(34.2)"><rect x="0" y="-2.15" width="11.2" height="4.3"/><rect x="11.40" y="-2.90" width="5.8" height="5.8" rx="0.9"/></g><g transform="translate(235.44 173.40) rotate(136.4)"><rect x="0" y="-2.15" width="11.2" height="4.3"/><rect x="11.40" y="-2.90" width="5.8" height="5.8" rx="0.9"/></g><g transform="translate(245.09 200.95) rotate(36.6)"><rect x="0" y="-2.15" width="11.2" height="4.3"/><rect x="11.40" y="-2.90" width="5.8" height="5.8" rx="0.9"/></g><g transform="translate(236.64 223.95) rotate(149.3)"><rect x="0" y="-2.15" width="11.2" height="4.3"/><rect x="11.40" y="-2.90" width="5.8" height="5.8" rx="0.9"/></g><g transform="translate(244.79 254.90) rotate(35.5)"><rect x="0" y="-2.15" width="11.2" height="4.3"/><rect x="11.40" y="-2.90" width="5.8" height="5.8" rx="0.9"/></g><g transform="translate(234.99 283.80) rotate(140.8)"><rect x="0" y="-2.15" width="11.2" height="4.3"/><rect x="11.40" y="-2.90" width="5.8" height="5.8" rx="0.9"/></g><g transform="translate(245.09 313.05) rotate(48.1)"><rect x="0" y="-2.15" width="11.2" height="4.3"/><rect x="11.40" y="-2.90" width="5.8" height="5.8" rx="0.9"/></g><g transform="translate(234.59 344.40) rotate(132.4)"><rect x="0" y="-2.15" width="11.2" height="4.3"/><rect x="11.40" y="-2.90" width="5.8" height="5.8" rx="0.9"/></g><g transform="translate(242.84 380.10) rotate(34.0)"><rect x="0" y="-2.15" width="11.2" height="4.3"/><rect x="11.40" y="-2.90" width="5.8" height="5.8" rx="0.9"/></g><g transform="translate(245.79 419.25) rotate(151.0)"><rect x="0" y="-2.15" width="11.2" height="4.3"/><rect x="11.40" y="-2.90" width="5.8" height="5.8" rx="0.9"/></g><g transform="translate(234.24 451.20) rotate(55.3)"><rect x="0" y="-2.15" width="11.2" height="4.3"/><rect x="11.40" y="-2.90" width="5.8" height="5.8" rx="0.9"/></g><g transform="translate(310.81 173.40) rotate(136.4)"><rect x="0" y="-2.15" width="11.2" height="4.3"/><rect x="11.40" y="-2.90" width="5.8" height="5.8" rx="0.9"/></g><g transform="translate(320.46 200.95) rotate(36.6)"><rect x="0" y="-2.15" width="11.2" height="4.3"/><rect x="11.40" y="-2.90" width="5.8" height="5.8" rx="0.9"/></g><g transform="translate(312.01 223.95) rotate(149.3)"><rect x="0" y="-2.15" width="11.2" height="4.3"/><rect x="11.40" y="-2.90" width="5.8" height="5.8" rx="0.9"/></g><g transform="translate(320.16 254.90) rotate(35.5)"><rect x="0" y="-2.15" width="11.2" height="4.3"/><rect x="11.40" y="-2.90" width="5.8" height="5.8" rx="0.9"/></g><g transform="translate(310.36 283.80) rotate(140.8)"><rect x="0" y="-2.15" width="11.2" height="4.3"/><rect x="11.40" y="-2.90" width="5.8" height="5.8" rx="0.9"/></g><g transform="translate(320.46 313.05) rotate(48.1)"><rect x="0" y="-2.15" width="11.2" height="4.3"/><rect x="11.40" y="-2.90" width="5.8" height="5.8" rx="0.9"/></g><g transform="translate(310.11 344.50) rotate(134.7)"><rect x="0" y="-2.15" width="11.2" height="4.3"/><rect x="11.40" y="-2.90" width="5.8" height="5.8" rx="0.9"/></g><g transform="translate(318.11 366.80) rotate(34.2)"><rect x="0" y="-2.15" width="11.2" height="4.3"/><rect x="11.40" y="-2.90" width="5.8" height="5.8" rx="0.9"/></g><g transform="translate(386.18 173.40) rotate(136.4)"><rect x="0" y="-2.15" width="11.2" height="4.3"/><rect x="11.40" y="-2.90" width="5.8" height="5.8" rx="0.9"/></g><g transform="translate(395.83 200.95) rotate(36.6)"><rect x="0" y="-2.15" width="11.2" height="4.3"/><rect x="11.40" y="-2.90" width="5.8" height="5.8" rx="0.9"/></g><g transform="translate(387.38 223.95) rotate(149.3)"><rect x="0" y="-2.15" width="11.2" height="4.3"/><rect x="11.40" y="-2.90" width="5.8" height="5.8" rx="0.9"/></g><g transform="translate(395.53 254.90) rotate(35.5)"><rect x="0" y="-2.15" width="11.2" height="4.3"/><rect x="11.40" y="-2.90" width="5.8" height="5.8" rx="0.9"/></g><g transform="translate(385.73 283.80) rotate(140.8)"><rect x="0" y="-2.15" width="11.2" height="4.3"/><rect x="11.40" y="-2.90" width="5.8" height="5.8" rx="0.9"/></g><g transform="translate(395.83 313.05) rotate(48.1)"><rect x="0" y="-2.15" width="11.2" height="4.3"/><rect x="11.40" y="-2.90" width="5.8" height="5.8" rx="0.9"/></g><g transform="translate(385.33 344.40) rotate(132.4)"><rect x="0" y="-2.15" width="11.2" height="4.3"/><rect x="11.40" y="-2.90" width="5.8" height="5.8" rx="0.9"/></g><g transform="translate(393.58 380.10) rotate(34.0)"><rect x="0" y="-2.15" width="11.2" height="4.3"/><rect x="11.40" y="-2.90" width="5.8" height="5.8" rx="0.9"/></g><g transform="translate(396.53 419.25) rotate(151.0)"><rect x="0" y="-2.15" width="11.2" height="4.3"/><rect x="11.40" y="-2.90" width="5.8" height="5.8" rx="0.9"/></g><g transform="translate(384.98 451.20) rotate(55.3)"><rect x="0" y="-2.15" width="11.2" height="4.3"/><rect x="11.40" y="-2.90" width="5.8" height="5.8" rx="0.9"/></g><g transform="translate(461.55 173.40) rotate(136.4)"><rect x="0" y="-2.15" width="11.2" height="4.3"/><rect x="11.40" y="-2.90" width="5.8" height="5.8" rx="0.9"/></g><g transform="translate(471.20 200.95) rotate(36.6)"><rect x="0" y="-2.15" width="11.2" height="4.3"/><rect x="11.40" y="-2.90" width="5.8" height="5.8" rx="0.9"/></g><g transform="translate(462.75 223.95) rotate(149.3)"><rect x="0" y="-2.15" width="11.2" height="4.3"/><rect x="11.40" y="-2.90" width="5.8" height="5.8" rx="0.9"/></g><g transform="translate(470.90 254.90) rotate(35.5)"><rect x="0" y="-2.15" width="11.2" height="4.3"/><rect x="11.40" y="-2.90" width="5.8" height="5.8" rx="0.9"/></g><g transform="translate(461.10 283.80) rotate(140.8)"><rect x="0" y="-2.15" width="11.2" height="4.3"/><rect x="11.40" y="-2.90" width="5.8" height="5.8" rx="0.9"/></g><g transform="translate(471.20 313.05) rotate(48.1)"><rect x="0" y="-2.15" width="11.2" height="4.3"/><rect x="11.40" y="-2.90" width="5.8" height="5.8" rx="0.9"/></g><g transform="translate(460.85 344.50) rotate(134.7)"><rect x="0" y="-2.15" width="11.2" height="4.3"/><rect x="11.40" y="-2.90" width="5.8" height="5.8" rx="0.9"/></g><g transform="translate(468.85 366.80) rotate(34.2)"><rect x="0" y="-2.15" width="11.2" height="4.3"/><rect x="11.40" y="-2.90" width="5.8" height="5.8" rx="0.9"/></g><g transform="translate(536.92 173.40) rotate(136.4)"><rect x="0" y="-2.15" width="11.2" height="4.3"/><rect x="11.40" y="-2.90" width="5.8" height="5.8" rx="0.9"/></g><g transform="translate(546.57 200.95) rotate(36.6)"><rect x="0" y="-2.15" width="11.2" height="4.3"/><rect x="11.40" y="-2.90" width="5.8" height="5.8" rx="0.9"/></g><g transform="translate(538.12 223.95) rotate(149.3)"><rect x="0" y="-2.15" width="11.2" height="4.3"/><rect x="11.40" y="-2.90" width="5.8" height="5.8" rx="0.9"/></g><g transform="translate(546.27 254.90) rotate(35.5)"><rect x="0" y="-2.15" width="11.2" height="4.3"/><rect x="11.40" y="-2.90" width="5.8" height="5.8" rx="0.9"/></g><g transform="translate(536.47 283.80) rotate(140.8)"><rect x="0" y="-2.15" width="11.2" height="4.3"/><rect x="11.40" y="-2.90" width="5.8" height="5.8" rx="0.9"/></g><g transform="translate(546.57 313.05) rotate(48.1)"><rect x="0" y="-2.15" width="11.2" height="4.3"/><rect x="11.40" y="-2.90" width="5.8" height="5.8" rx="0.9"/></g><g transform="translate(536.07 344.40) rotate(132.4)"><rect x="0" y="-2.15" width="11.2" height="4.3"/><rect x="11.40" y="-2.90" width="5.8" height="5.8" rx="0.9"/></g><g transform="translate(544.32 380.10) rotate(34.0)"><rect x="0" y="-2.15" width="11.2" height="4.3"/><rect x="11.40" y="-2.90" width="5.8" height="5.8" rx="0.9"/></g><g transform="translate(547.27 419.25) rotate(151.0)"><rect x="0" y="-2.15" width="11.2" height="4.3"/><rect x="11.40" y="-2.90" width="5.8" height="5.8" rx="0.9"/></g><g transform="translate(535.72 451.20) rotate(55.3)"><rect x="0" y="-2.15" width="11.2" height="4.3"/><rect x="11.40" y="-2.90" width="5.8" height="5.8" rx="0.9"/></g></g>
<line x1="102" y1="157.25" x2="156.6" y2="157.25" stroke="#000" stroke-width="2.3" stroke-linecap="round"/>
<line x1="293.8" y1="161.7" x2="293.8" y2="373.7" stroke="#000" stroke-width="2.3" stroke-linecap="round"/>
<line x1="518.35" y1="161.6" x2="518.35" y2="453.8" stroke="#000" stroke-width="2.3" stroke-linecap="round"/>
<path d="M42.8 242.2 L44.6 223.5 A8.4 7.4 0 0 1 61.4 223.5 L63.1 242.2 Z" fill="#fff" stroke="#000" stroke-width="1.25" stroke-linejoin="round"/>
<rect x="580.9" y="184.4" width="16" height="22.6" fill="#fff" stroke="#000" stroke-width="1.45"/>
<circle cx="588.9" cy="196" r="3.1" fill="none" stroke="#000" stroke-width="1.05"/>
<line x1="588.85" y1="207" x2="588.85" y2="232.5" stroke="#000" stroke-width="1.4"/>
<path d="M585.5 248.5 V254.5 A0.9 0.9 0 0 0 587.3 254.5 V248.5 M591.6 248.5 V254.5 A0.9 0.9 0 0 0 593.4 254.5 V248.5" fill="#fff" stroke="#000" stroke-width="1.0"/>
<path d="M582.4 248.8 L583.3 236.8 A5.7 5.2 0 0 1 594.8 236.8 L595.8 248.8 Z" fill="#fff" stroke="#000" stroke-width="1.25" stroke-linejoin="round"/>
<text x="304.6" y="128.9" font-family="Liberation Sans" font-weight="bold" font-size="23.6" textLength="31.2" lengthAdjust="spacingAndGlyphs">6M</text>
<text x="99.3" y="178.2" font-family="Liberation Sans" font-weight="bold" font-size="22.2">20CM</text>
<text transform="translate(290.9 281.1) rotate(-90)" font-family="Liberation Sans" font-weight="bold" font-size="23.3">CM</text>
<text x="268.5" y="302.7" font-family="Liberation Sans" font-style="italic" font-size="19.5" fill="#111">45</text>
<text transform="translate(516.2 306.3) rotate(-90)" font-family="Liberation Sans" font-weight="bold" font-size="23.3">60CM</text>
<text transform="translate(36.6 243) rotate(-90) scale(0.68 1)" font-family="Liberation Sans" font-style="italic" font-size="18" fill="#1a1a1a" stroke="#1a1a1a" stroke-width="0.45" letter-spacing="1.1">Continuidad</text>
<text x="606" y="204.5" font-family="Liberation Serif" font-style="italic" font-size="18" fill="#2a2a2a" textLength="85.7" lengthAdjust="spacingAndGlyphs">Secuenciador</text>
<circle cx="208.5" cy="433.5" r="0.8" fill="#777"/>
<circle cx="609" cy="211" r="0.6" fill="#999"/>
</svg>
</body></html>
